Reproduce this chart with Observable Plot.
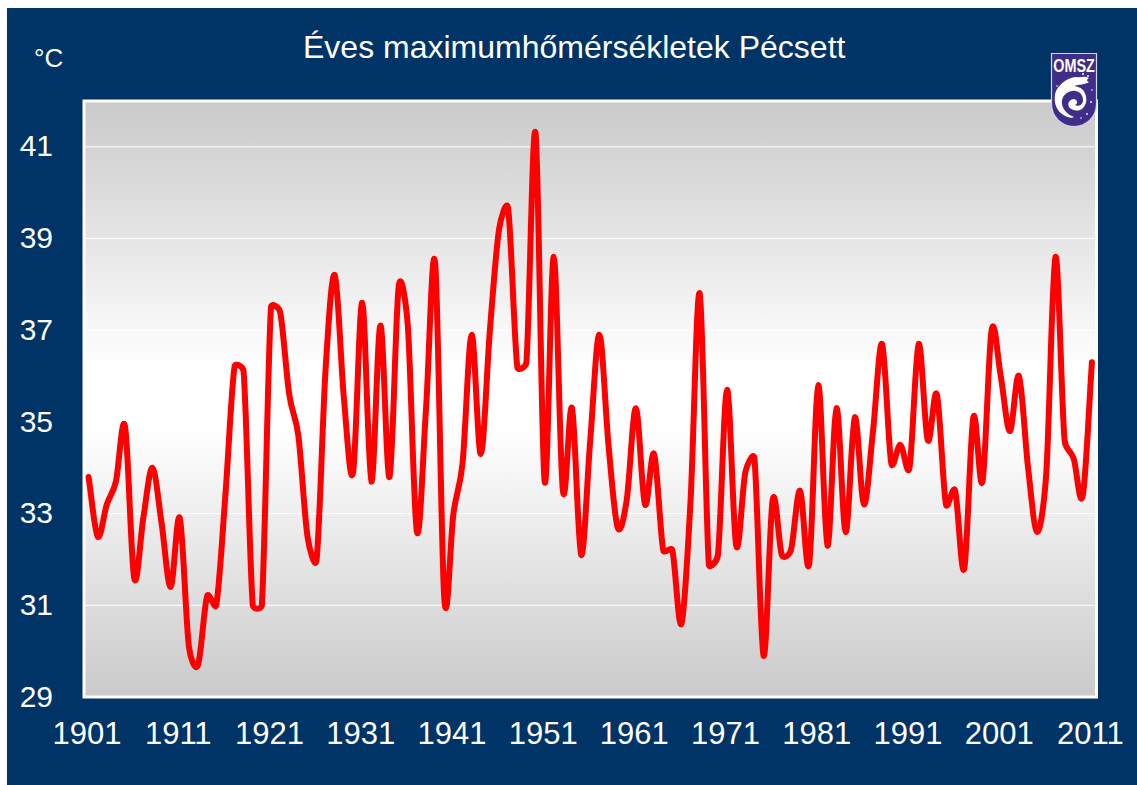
<!DOCTYPE html>
<html><head><meta charset="utf-8">
<style>
html,body{margin:0;padding:0;background:#fff;width:1137px;height:785px;overflow:hidden}
#bg{position:absolute;left:7px;top:8px;width:1130px;height:777px;background:#003366}
#chart{position:absolute;left:0;top:0}
#title,#unit{position:absolute;color:#fff;font-family:"Liberation Sans",Arial,sans-serif;white-space:nowrap}
#title{left:303px;top:29px;font-size:32px;line-height:36px}
#unit{left:34px;top:43px;font-size:26px;line-height:30px}
#logo{position:absolute;left:1030px;top:42px}
</style>
<script src="https://cdn.jsdelivr.net/npm/d3@7"></script>
<script src="https://cdn.jsdelivr.net/npm/@observablehq/plot@0.6"></script>
</head><body>
<div id="bg"></div>
<div id="chart"></div>
<div id="title">Éves maximumhőmérsékletek Pécsett</div>
<div id="unit">°C</div>
<svg id="logo" width="90" height="96" viewBox="-20 -10 90 96">
<path d="M1.5 1.5H46.5V52C46.5 65 36 74.5 24 74.5C12 74.5 1.5 65 1.5 52Z" fill="#3f2d8a" stroke="#d8d4ea" stroke-width="1.2"/>
<text transform="translate(24,20) scale(0.8,1)" text-anchor="middle" font-family="Liberation Sans,Arial,sans-serif" font-weight="700" font-size="18" fill="#fff">OMSZ</text>
<path transform="translate(-2,-1)" d="M41 27C36 24 33 27 29 26C21 26 12 32 8 40C5 48 7 58 14 63C18 66 24 68 26 66C20 64 15 59 14 53C13 46 18 41 24 40C30 39 35 43 35 49C35 54 30 56 27 54C30 53 30 49 26 48C22 48 19 52 21 56C24 60 31 61 35 57C40 52 39 44 35 39C32 36 28 35 26 35C31 33 37 34 41 31C38 30 39 28 41 27Z" fill="#fff"/>
<g fill="#fff"><circle cx="33" cy="22" r="1"/><circle cx="38" cy="24" r="0.9"/><circle cx="42" cy="38" r="0.8"/><circle cx="41" cy="50" r="0.9"/><circle cx="37" cy="62" r="0.9"/><circle cx="31" cy="66" r="0.8"/><circle cx="7" cy="34" r="0.8"/></g>
</svg>
<script>
const years = d3.range(1901, 2012);
const tmax = [33.8,32.5,33.2,33.7,34.9,31.6,32.9,34.0,32.8,31.4,
32.9,30.1,29.7,31.2,31.0,33.4,36.2,36.1,31.0,31.0,
37.5,37.4,35.6,34.7,32.5,32.0,36.2,38.2,35.5,33.9,
37.6,33.7,37.1,33.8,37.95,37.1,32.6,35.3,38.45,31.15,
33.0,34.1,36.9,34.3,37.0,39.2,39.65,36.2,36.3,41.3,
33.7,38.6,33.5,35.3,32.1,34.6,36.9,34.5,32.7,33.3,
35.3,33.2,34.3,32.2,32.2,30.6,33.3,37.8,31.9,32.1,
35.7,32.3,33.9,34.2,29.9,33.3,32.1,32.2,33.5,31.9,
35.8,32.3,35.3,32.6,35.1,33.2,34.8,36.7,34.1,34.5,
34.0,36.7,34.6,35.6,33.2,33.5,31.8,35.1,33.7,37.0,
36.0,34.8,36.0,34.0,32.6,33.9,38.6,34.6,34.2,33.4,36.3];
const xTicks = d3.range(1901, 2012, 10);
const yTicks = [29,31,33,35,37,39,41];
const data = years.map((year, i) => ({year, t: tmax[i]}));

const gradient = () => {
  const s = d3.create("svg:defs");
  const g = s.append("linearGradient").attr("id","plotbg").attr("x1",0).attr("x2",0).attr("y1",0).attr("y2",1);
  [[0,"#cacaca"],[0.45,"#ffffff"],[0.55,"#ffffff"],[1,"#cacaca"]].forEach(([o,c]) => g.append("stop").attr("offset",o).attr("stop-color",c));
  return s.node();
};

// Spreadsheet-style smoothing: Catmull-Rom tangents limited by the segment's own length.
function smoothCurve(context) {
  let pts = [];
  return {
    lineStart() { pts = []; },
    lineEnd() {
      const n = pts.length;
      if (!n) return;
      context.moveTo(pts[0][0], pts[0][1]);
      const d = (a, b) => Math.hypot(a[0] - b[0], a[1] - b[1]);
      for (let i = 0; i < n - 1; ++i) {
        const p1 = pts[i], p2 = pts[i + 1];
        const p0 = i > 0 ? pts[i - 1] : p1, p3 = i < n - 2 ? pts[i + 2] : p2;
        const d12 = d(p1, p2), d02 = d(p0, p2), d13 = d(p1, p3);
        const a = i > 0 ? Math.min(1 / 6, d12 / (2 * d02)) : 1 / 3;
        const b = i < n - 2 ? Math.min(1 / 6, d12 / (2 * d13)) : 1 / 3;
        context.bezierCurveTo(
          p1[0] + (p2[0] - p0[0]) * a, p1[1] + (p2[1] - p0[1]) * a,
          p2[0] - (p3[0] - p1[0]) * b, p2[1] - (p3[1] - p1[1]) * b,
          p2[0], p2[1]);
      }
    },
    point(x, y) { pts.push([+x, +y]); },
    areaStart() {}, areaEnd() {}
  };
}

const chart = Plot.plot({
  width: 1137, height: 785,
  marginTop: 100.5, marginBottom: 88.5, marginLeft: 83.5, marginRight: 41,
  style: {background:"transparent", fontFamily:'"Liberation Sans",Arial,sans-serif', fontSize:"31px", color:"#fff", overflow:"visible"},
  x: {domain:[1900.5,2011.5], axis:null},
  y: {domain:[29,42], axis:null},
  marks: [
    gradient,
    Plot.frame({fill:"url(#plotbg)", stroke:null}),
    Plot.ruleY(yTicks.slice(1), {stroke:"#fff", strokeWidth:1}),
    Plot.frame({stroke:"#fff", strokeWidth:3}),
    Plot.axisX(xTicks, {tickFormat:"d", tickSize:0, tickPadding:25, dx:-1.5, label:null, fontSize:31}),
    Plot.axisY(yTicks, {tickSize:0, tickPadding:31, label:null, fontSize:30}),
    Plot.line(data, {x:"year", y:"t", stroke:"#ff0000", strokeWidth:6, curve:smoothCurve, strokeLinejoin:"round", strokeLinecap:"round"})
  ]
});
document.getElementById("chart").appendChild(chart);
</script>
</body></html>
